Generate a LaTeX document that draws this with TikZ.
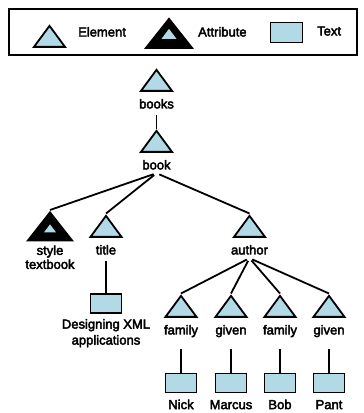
\documentclass[tikz,border=0pt]{standalone}
\usepackage{fontspec}
\setmainfont{Liberation Sans}[BoldFont=Liberation Sans, BoldFeatures={FakeBold=3}]
\usetikzlibrary{positioning,shapes.geometric}
\definecolor{leaf}{HTML}{B1DAE6}
\tikzset{
    %Define style for element triangles
    element/.style={
   	isosceles triangle,
   	isosceles triangle stretches,
   	shape border rotate=90,
   	draw=black, line width=1.8pt,
   	fill=leaf,
   	inner sep=0pt,
   	minimum width=31pt,
   	minimum height=21pt
   },
    %Define style for attribute triangles
   attribute/.style={
   	element,
   	fill=black,
   	minimum width=44pt,
   	minimum height=28pt
   },
   attrinner/.style={
   	element,
   	draw=none,
   	minimum width=12pt,
   	minimum height=8pt
   },
    %Define style for text boxes
   textbox/.style={
   	rectangle,
   	draw=black, line width=1.8pt,
   	fill=leaf,
   	inner sep=0pt,
   	minimum width=31pt,
   	minimum height=19pt
   },
    %Define style for labels
   tag/.style={
   	font=\fontsize{13}{15}\selectfont\bfseries,
   	inner sep=1pt,
   	text height=9.5pt,
   	text depth=2.5pt
   },
   tags/.style={
   	font=\fontsize{13}{14}\selectfont\bfseries,
   	inner sep=1pt,
   	align=center
   },
    % Define line style
    link/.style={
           line width=1.8pt,
           shorten <=3pt}
}
\begin{document}
\begin{tikzpicture}[x=1pt,y=-1pt]
\useasboundingbox (0,0) rectangle (364,413);
% legend
\draw[line width=1.9pt] (9,9) rectangle (357,55);
\node[element, anchor=apex] (keyelem) at (49.5,23.5) {};
\node[tag, anchor=west] (keyeleml) at (77,33) {Element};
\node[attribute, anchor=apex, minimum width=46pt, minimum height=29pt] (keyattr) at (169,16.5) {};
\node[attrinner, anchor=lower side, minimum width=15pt, minimum height=10pt] (keyattrin) at ([yshift=9pt]keyattr.lower side) {};
\node[tag, anchor=west] (keyattrl) at (197,33) {Attribute};
\node[textbox, minimum width=32pt, minimum height=20pt] (keytext) at (286.5,32.5) {};
\node[tag, anchor=west] (keytextl) at (316,32) {Text};
% tree
\node[element, anchor=apex] (books) at (156.5,67.5) {};
\node[tag, below=6pt of books] (booksl) {books};
\node[element, anchor=apex] (book) at (156.5,128.5) {};
\node[tag, below=6pt of book] (bookl) {book};
\node[attribute, anchor=apex] (style) at (50,210) {};
\node[attrinner, anchor=lower side] (stylein) at ([yshift=8pt]style.lower side) {};
\node[tags, below=3pt of style] (stylel) {style\\textbook};
\node[element, anchor=apex] (title) at (106,213.5) {};
\node[tag, below=6pt of title] (titlel) {title};
\node[element, anchor=apex] (author) at (249.5,213.5) {};
\node[tag, below=6pt of author] (authorl) {author};
\node[textbox, below=35pt of titlel] (design) {};
\node[tags, font=\fontsize{13}{16}\selectfont\bfseries, below=4pt of design] (designl) {Designing XML\\applications};
% author children
\node[element, anchor=apex] (family1) at (181,293.5) {};
\node[element, anchor=apex] (given1) at (231,293.5) {};
\node[element, anchor=apex] (family2) at (280,293.5) {};
\node[element, anchor=apex] (given2) at (329,293.5) {};
\node[tag, below=6pt of family1] (family1l) {family};
\node[tag, below=6pt of given1] (given1l) {given};
\node[tag, below=6pt of family2] (family2l) {family};
\node[tag, below=6pt of given2] (given2l) {given};
\node[textbox] (nick) at (181,383) {};
\node[textbox] (marcus) at (231,383) {};
\node[textbox] (bob) at (280,383) {};
\node[textbox] (pant) at (329,383) {};
\node[tag, below=5pt of nick] (nickl) {Nick};
\node[tag, below=5pt of marcus] (marcusl) {Marcus};
\node[tag, below=5pt of bob] (bobl) {Bob};
\node[tag, below=5pt of pant] (pantl) {Pant};
\path[link]
	(booksl.south) edge (book.apex)
	(bookl.south) edge (style.apex) edge (title.apex) edge (author.apex)
	(titlel.south) edge (design.north)
	(authorl.south) edge (family1.apex) edge (given1.apex)
		edge (family2.apex) edge (given2.apex);
\path[link, shorten <=11pt]
	(family1l.south) edge (nick.north)
	(given1l.south) edge (marcus.north)
	(family2l.south) edge (bob.north)
	(given2l.south) edge (pant.north);
\end{tikzpicture}
\end{document}
